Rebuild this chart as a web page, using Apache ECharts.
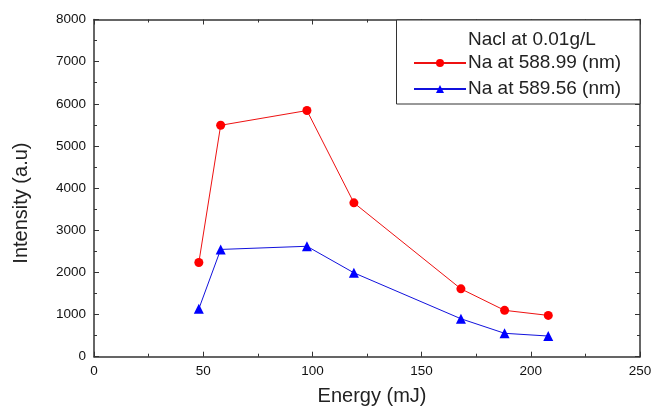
<!DOCTYPE html>
<html>
<head>
<meta charset="utf-8">
<script src="https://cdn.jsdelivr.net/npm/echarts@6/dist/echarts.min.js"></script>
<style>
  html, body { margin: 0; padding: 0; background: #fff; }
  #chart { width: 651px; height: 408px; }
</style>
</head>
<body>
<div id="chart"></div>
<script>
// values
const energy = [48, 58, 97.5, 119, 168, 188, 208];
const na58899 = [2235, 5490, 5840, 3650, 1610, 1100, 980];
const na58956 = [1135, 2545, 2620, 1990, 900, 555, 490];
const xTicks = [0, 50, 100, 150, 200, 250];
const yTicks = [0, 1000, 2000, 3000, 4000, 5000, 6000, 7000, 8000];

const font = 'Liberation Sans, Arial, sans-serif';
const axisColor = '#333';

function pairs(xs, ys) {
  return xs.map((x, i) => [x, ys[i]]);
}

const chart = echarts.init(document.getElementById('chart'));

function baseAxis(extra) {
  return Object.assign({
    axisLine: { show: true, onZero: false, lineStyle: { color: axisColor, width: 1.5 } },
    axisTick: { show: true, inside: true, length: 5, lineStyle: { color: axisColor, width: 1 } },
    minorTick: { show: true, splitNumber: 2, length: 3, lineStyle: { color: axisColor, width: 1 } },
    splitLine: { show: false },
    minorSplitLine: { show: false }
  }, extra);
}

const option = {
  animation: false,
  backgroundColor: '#fff',
  grid: {
    left: 94, right: 11, top: 19.5, bottom: 51.3,
    containLabel: false, outerBoundsMode: 'none'
  },
  xAxis: [
    baseAxis({
      type: 'value', position: 'bottom',
      min: xTicks[0], max: xTicks[xTicks.length - 1], interval: 50,
      name: 'Energy (mJ)', nameLocation: 'middle', nameGap: 30,
      nameTextStyle: { fontFamily: font, fontSize: 20, color: '#222', padding: [0, 0, 0, 10] },
      axisLabel: { fontFamily: font, fontSize: 13.5, color: '#111', margin: 8 }
    }),
    baseAxis({
      type: 'value', position: 'top',
      min: xTicks[0], max: xTicks[xTicks.length - 1], interval: 50,
      axisLabel: { show: false }
    })
  ],
  yAxis: [
    baseAxis({
      type: 'value', position: 'left',
      min: yTicks[0], max: yTicks[yTicks.length - 1], interval: 1000,
      name: 'Intensity (a.u)', nameLocation: 'middle', nameGap: 63, nameRotate: 90,
      nameTextStyle: { fontFamily: font, fontSize: 20, color: '#222', padding: [0, 30, 0, 0] },
      axisLabel: {
        fontFamily: font, fontSize: 13.5, color: '#111', margin: 8,
        formatter: (v) => String(v)
      }
    }),
    baseAxis({
      type: 'value', position: 'right',
      min: yTicks[0], max: yTicks[yTicks.length - 1], interval: 1000,
      axisLabel: { show: false }
    })
  ],
  legend: {
    orient: 'vertical',
    left: 413,
    top: 53.5,
    z: 20,
    padding: 0,
    itemWidth: 52,
    itemHeight: 10,
    itemGap: 7,
    textStyle: { fontFamily: font, fontSize: 19, color: '#222', padding: [0, 0, 0, -3] },
    data: ['Na at 588.99 (nm)', 'Na at 589.56 (nm)']
  },
  graphic: [
    {
      type: 'rect', left: 396, top: 19.5, z: 10,
      shape: { width: 243.5, height: 84 },
      style: { fill: '#fff', stroke: axisColor, lineWidth: 1 }
    },
    {
      type: 'text', left: 468, top: 30.5, z: 11,
      style: { text: 'Nacl at 0.01g/L', font: '19px ' + font, fill: '#222' }
    }
  ],
  series: [
    {
      name: 'Na at 588.99 (nm)',
      type: 'line',
      data: pairs(energy, na58899),
      symbol: 'circle',
      symbolSize: 9,
      lineStyle: { color: '#ee1111', width: 1 },
      itemStyle: { color: '#ff0000' }
    },
    {
      name: 'Na at 589.56 (nm)',
      type: 'line',
      data: pairs(energy, na58956),
      symbol: 'triangle',
      symbolSize: 10,
      lineStyle: { color: '#1111dd', width: 1 },
      itemStyle: { color: '#0000ff' }
    }
  ]
};

chart.setOption(option);
</script>
</body>
</html>
